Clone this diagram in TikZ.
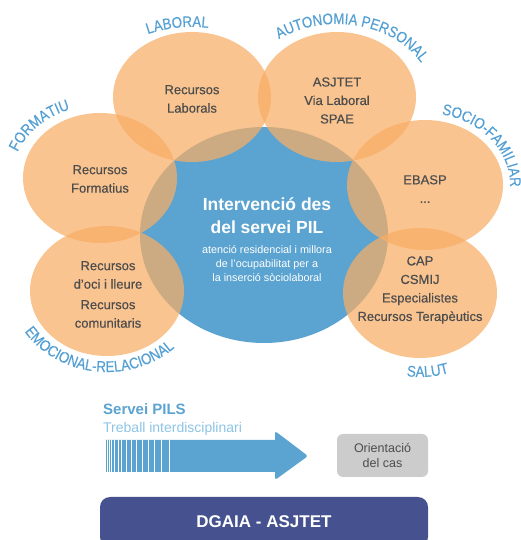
\documentclass[tikz,border=0pt]{standalone}
\usepackage{fontspec}
\setmainfont{Liberation Sans}
\newfontfamily\lblfamily{Liberation Sans}[FakeStretch=0.86, FakeBold=0.3]
\newfontfamily\medfamily{Liberation Sans}[FakeBold=0.4]
\usetikzlibrary{decorations.text}
\definecolor{pilblue}{RGB}{91,163,208}
\definecolor{lblblue}{RGB}{84,160,212}
\definecolor{lightblue}{RGB}{140,196,230}
\definecolor{orangefill}{RGB}{248,173,101}
\definecolor{darktext}{RGB}{77,77,77}
\definecolor{greybox}{RGB}{204,204,204}
\definecolor{dgaiablue}{RGB}{70,82,143}
\newcommand\lblfont{\lblfamily\fontsize{15.5}{16}\selectfont}
\begin{document}
\begin{tikzpicture}[x=1pt, y=1pt, line join=round, line cap=round,
    blob/.style={fill=orangefill, fill opacity=0.72},
    rtext/.style={text=darktext, align=center, font=\medfamily\fontsize{13}{18.5}\selectfont, inner sep=0pt},
    arclabel/.style={decorate, decoration={text along path, text={|\lblfont|#1}, text align=center, text color=lblblue}}]
  \useasboundingbox (0,0) rectangle (521,540);
  \clip (0,0) rectangle (521,540);
  % central area
  \fill[pilblue] (264,305) ellipse [x radius=124pt, y radius=108pt];
  % resource areas
  \fill[blob] (192,443) ellipse [x radius=79pt, y radius=65pt];
  \fill[blob] (337,443) ellipse [x radius=79pt, y radius=65pt];
  \fill[blob] (100,362) ellipse [x radius=77pt, y radius=65pt];
  \fill[blob] (425,355) ellipse [x radius=78pt, y radius=65pt];
  \fill[blob] (107,249) ellipse [x radius=77pt, y radius=65pt];
  \fill[blob] (420,247) ellipse [x radius=77pt, y radius=65pt];
  % labels round the areas
  \path[arclabel=LABORAL] (192,443) ++(135:100pt and 70pt) arc[start angle=135, end angle=63, x radius=100pt, y radius=70pt];
  \path[arclabel=AUTONOMIA PERSONAL] (337,443) ++(140:95pt and 73pt) arc[start angle=140, end angle=14, x radius=95pt, y radius=73pt];
  \path[arclabel=SOCIO-FAMILIAR] (425,355) ++(85:85pt and 72pt) arc[start angle=85, end angle=-9, x radius=85pt, y radius=72pt];
  \path[arclabel=FORMATIU] (100,362) ++(165:88pt and 73pt) arc[start angle=165, end angle=105, x radius=88pt, y radius=73pt];
  \path[arclabel=EMOCIONAL-RELACIONAL] (107,256) ++(195:98pt and 88pt) arc[start angle=195, end angle=331, x radius=98pt, y radius=88pt];
  \path[arclabel=SALUT] (420,247) ++(250:95pt and 84pt) arc[start angle=250, end angle=300, x radius=95pt, y radius=84pt];
  % texts
  \node[rtext] (laboral) at (192,441) {Recursos\\Laborals};
  \node[rtext] (autonomia) at (337,439.5) {ASJTET\\Via Laboral\\SPAE};
  \node[rtext] (formatiu) at (100,361) {Recursos\\Formatius};
  \node[rtext] (socio) at (425,351) {EBASP\\...};
  \node[rtext] (emocional) at (108,245.5) {Recursos\\d’oci i lleure\\[2pt]Recursos\\comunitaris};
  \node[rtext] (salut) at (420,250) {CAP\\CSMIJ\\Especialistes\\Recursos Terapèutics};
  \node[text=white, align=center, font=\fontsize{17.5}{23}\selectfont\bfseries, inner sep=0pt] (pil) at (267,324) {Intervenció des\\del servei PIL};
  \node[text=white, align=center, font=\fontsize{10.8}{14}\selectfont, inner sep=0pt] (pilsub) at (267,276) {atenció residencial i millora\\de l’ocupabilitat per a\\la inserció sòciolaboral};
  % bottom
  \node[anchor=base west, inner sep=0pt, text=pilblue, font=\fontsize{15}{15}\selectfont\bfseries] (servei) at (103,125) {Servei PILS};
  \node[anchor=base west, inner sep=0pt, text=lightblue, font=\fontsize{14}{14}\selectfont] (treball) at (103,107) {Treball interdisciplinari};
  \fill[pilblue] (105,68) -- (275,68) [rounded corners=2.5pt] -- (275,60) -- (308,84) -- (275,109) [sharp corners] -- (275,100) -- (105,100) -- cycle;
  \foreach \i in {0,...,14}
    \draw[white, line width=0.8pt, line cap=butt] ({105.4+64*(0.3*\i/14+0.7*(\i/14)^2)},68) -- ++(0,32);
  \node[fill=greybox, rounded corners=6pt, minimum width=91pt, minimum height=43pt, align=center, text=darktext, font=\fontsize{12.5}{15}\selectfont, inner sep=0pt] (orient) at (382.5,84.5) {Orientació\\del cas};
  \node[fill=dgaiablue, rounded corners=10pt, minimum width=328pt, minimum height=50pt, text=white, font=\fontsize{17}{17}\selectfont\bfseries] (dgaia) at (264,18) {DGAIA - ASJTET};
\end{tikzpicture}
\end{document}
